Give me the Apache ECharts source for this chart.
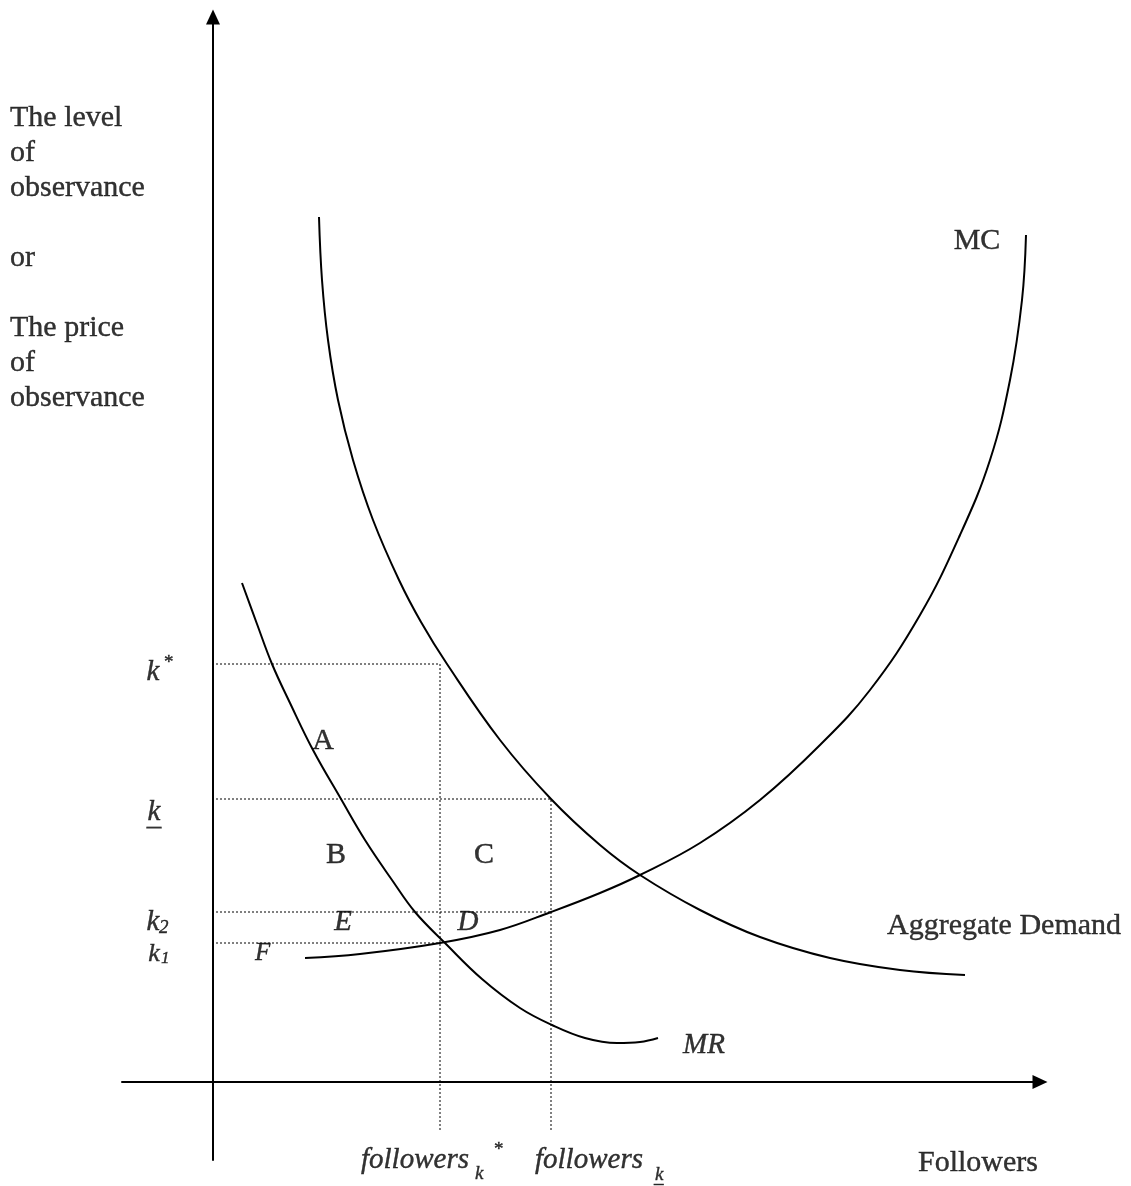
<!DOCTYPE html>
<html>
<head>
<meta charset="utf-8">
<script src="https://cdn.jsdelivr.net/npm/echarts@6/dist/echarts.min.js"></script>
<style>
    html, body { margin: 0; padding: 0; background: #fff; }
    #chart { width: 1131px; height: 1186px; }
</style>
</head>
<body>
<div id="chart"></div>
<script>
// curves, as [followers, level]
var demandCurve = [
    [106, 865], [109, 802], [115, 742], [125, 682], [140, 622], [160, 562],
    [186, 502], [208, 460], [234, 418], [287, 342], [338, 283], [387, 237],
    [427, 207], [487, 172], [547, 145], [617, 124], [687, 112], [752, 107]
];
var mcCurve = [
    [92, 124], [147, 128], [227, 139], [287, 152], [338, 170], [387, 189],
    [427, 207], [487, 239], [547, 282], [607, 337], [657, 392], [707, 467],
    [747, 547], [777, 622], [797, 702], [809, 782], [813, 847]
];
var mrCurve = [
    [29, 499], [44, 458], [59, 418], [77, 379], [100, 332], [128, 283],
    [152, 242], [179, 202], [202, 170], [232, 139], [269, 103], [307, 74],
    [339, 57], [372, 44], [404, 39], [427, 40], [445, 44]
];

// levels on the vertical axis and followers on the horizontal one
var kStar = 418, kBar = 283, k2 = 170, k1 = 139;
var followersStar = 227, followersBar = 338;
var guideStart = 3, guideEnd = -50;

// labels: text, x, y, style
var notes = [
    ['The level\nof\nobservance\n\nor\n\nThe price\nof\nobservance', -203, 981, 'title'],
    ['MC', 764, 841, 'plain'],
    ['Aggregate Demand', 674, 156, 'plainLeft'],
    ['MR', 470, 37, 'italicLeft'],
    ['A', 110, 341, 'plain'],
    ['B', 123, 227, 'plain'],
    ['C', 271, 227, 'plain'],
    ['E', 130, 160, 'italic'],
    ['D', 255, 160, 'italic'],
    ['F', 42, 129, 'smallItalicLeft'],
    ['k', -60, 410, 'italic'],
    ['*', -49, 419, 'scriptLeft'],
    ['k', -59, 270, 'italic'],
    ['_', -59, 265, 'italic'],
    ['k', -60, 160, 'italic'],
    ['2', -54, 154, 'scriptItalicLeft'],
    ['k', -59, 128, 'smallItalic'],
    ['1', -52, 123, 'tinyItalicLeft'],
    ['followers', 148, -78, 'italicLeft'],
    ['k', 262, -92, 'scriptItalicLeft'],
    ['*', 281, -68, 'scriptLeft'],
    ['followers', 322, -78, 'italicLeft'],
    ['k', 442, -93, 'scriptItalicLeft'],
    ['_', 441, -96, 'scriptItalicLeft'],
    ['Followers', 705, -81, 'plainLeft']
];

var FONT = 'Liberation Serif, Times New Roman, serif';
var styles = {
    title: { fontSize: 30, align: 'left', verticalAlign: 'top', lineHeight: 35 },
    plain: { fontSize: 30, align: 'center' },
    plainLeft: { fontSize: 30, align: 'left' },
    italic: { fontSize: 29, align: 'center', fontStyle: 'italic' },
    italicLeft: { fontSize: 29, align: 'left', fontStyle: 'italic' },
    smallItalic: { fontSize: 26, align: 'center', fontStyle: 'italic' },
    smallItalicLeft: { fontSize: 25, align: 'left', fontStyle: 'italic' },
    scriptLeft: { fontSize: 19, align: 'left' },
    scriptItalicLeft: { fontSize: 19, align: 'left', fontStyle: 'italic' },
    tinyItalicLeft: { fontSize: 17, align: 'left', fontStyle: 'italic' }
};

function curve(data) {
    return {
        type: 'line',
        data: data,
        smooth: 0.4,
        showSymbol: false,
        silent: true,
        lineStyle: { color: '#000', width: 2 }
    };
}

function guide(data) {
    return {
        type: 'line',
        data: data,
        showSymbol: false,
        silent: true,
        lineStyle: { color: '#000', width: 1, type: [2, 2] }
    };
}

function axis(min, max) {
    return {
        type: 'value',
        min: min,
        max: max,
        axisLine: {
            onZero: true,
            symbol: ['none', 'triangle'],
            symbolSize: [14, 15],
            lineStyle: { color: '#000', width: 2 }
        },
        axisTick: { show: false },
        axisLabel: { show: false },
        splitLine: { show: false }
    };
}

var chart = echarts.init(document.getElementById('chart'));
chart.setOption({
    animation: false,
    backgroundColor: '#fff',
    grid: { left: 122, right: 91, top: 17, bottom: 26 },
    xAxis: axis(-91, 827),
    yAxis: axis(-78, 1065),
    series: [
        guide([[guideStart, kStar], [followersStar, kStar], [followersStar, guideEnd]]),
        guide([[guideStart, kBar], [followersBar, kBar], [followersBar, guideEnd]]),
        guide([[guideStart, k2], [followersBar, k2]]),
        guide([[guideStart, k1], [followersStar, k1]]),
        curve(demandCurve),
        curve(mcCurve),
        curve(mrCurve),
        {
            type: 'scatter',
            clip: false,
            silent: true,
            symbolSize: 1,
            itemStyle: { color: 'rgba(0,0,0,0)' },
            data: notes.map(function (n) {
                var s = styles[n[3]];
                return {
                    value: [n[1], n[2]],
                    label: Object.assign({
                        show: true,
                        position: 'inside',
                        formatter: n[0],
                        color: '#000',
                        textBorderColor: '#000',
                        textBorderWidth: 0.4,
                        fontFamily: FONT,
                        verticalAlign: 'middle'
                    }, s)
                };
            })
        }
    ]
});
</script>
</body>
</html>
